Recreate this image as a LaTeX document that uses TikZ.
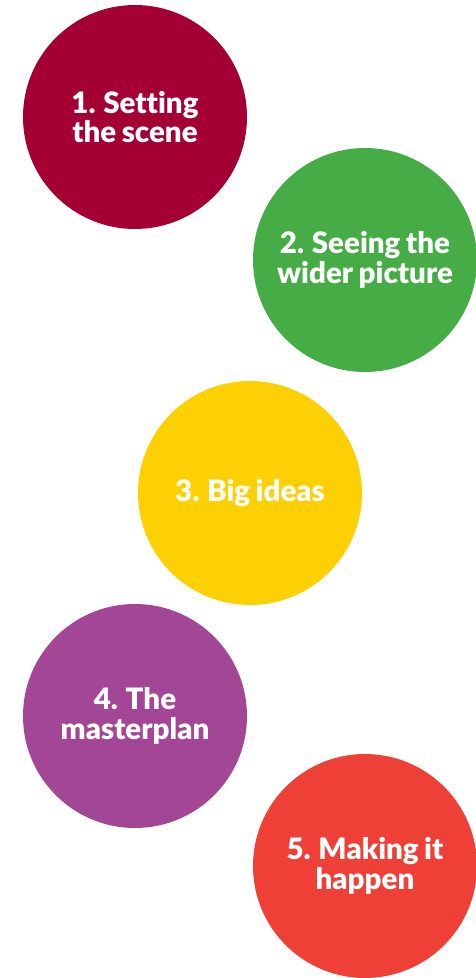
\documentclass[tikz,border=0pt]{standalone}
\usepackage{fontspec}
\setmainfont{Lato}[BoldFont={Lato Black}, WordSpace=0.8, Ligatures=NoCommon]
\definecolor{stepcrimson}{HTML}{A50034}
\definecolor{stepgreen}{HTML}{46AC46}
\definecolor{stepyellow}{HTML}{FDD003}
\definecolor{steppurple}{HTML}{A34695}
\definecolor{stepred}{HTML}{EE4036}
\begin{document}
\begin{tikzpicture}[x=1pt,y=-1pt,
  stage/.style={circle, minimum size=224pt, inner sep=0pt, draw=none,
    text=white, align=center,
    font=\fontsize{29.5}{29.5}\selectfont\bfseries}]
  \useasboundingbox[fill=white] (0,0) rectangle (476,978);
  \node[stage, fill=stepcrimson] (s1) at (135,117) {1. Setting\\the scene};
  \node[stage, fill=stepgreen]   (s2) at (365,260) {2. Seeing the\\wider picture};
  \node[stage, fill=stepyellow]  (s3) at (250,493) {3. Big ideas};
  \node[stage, fill=steppurple]  (s4) at (135,716) {4. The\\masterplan};
  \node[stage, fill=stepred]     (s5) at (365,866) {5. Making it\\happen};
\end{tikzpicture}
\end{document}
